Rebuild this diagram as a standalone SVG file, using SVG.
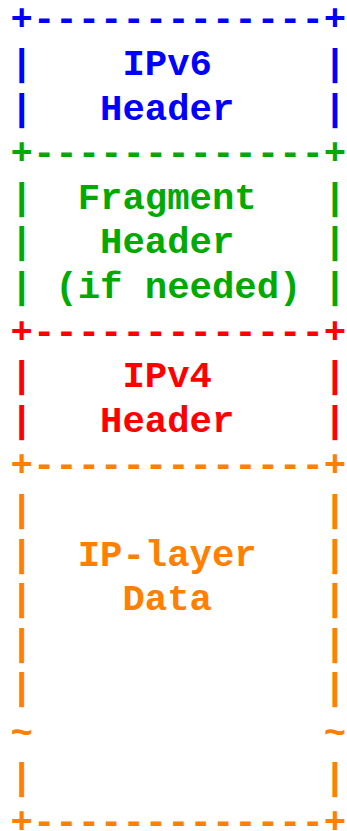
<svg xmlns="http://www.w3.org/2000/svg" width="347" height="831" viewBox="0 0 347 831">
  <style>
    text { font-family: "Liberation Mono", "Courier New", monospace; font-weight: bold; font-size: 37.3px; white-space: pre; }
    .v6 { fill: #0000ff; }
    .frag { fill: #00aa00; }
    .v4 { fill: #ff0000; }
    .data { fill: #ff8000; }
  </style>
  <rect width="347" height="831" fill="#ffffff"/>
  <!-- IPv6 header block -->
  <g id="ipv6-header" class="v6">
    <text x="10.5" y="30.4" xml:space="preserve">+-------------+</text>
    <text x="10.5" y="75.0" xml:space="preserve">|    IPv6     |</text>
    <text x="10.5" y="119.6" xml:space="preserve">|   Header    |</text>
  </g>
  <!-- Fragment header block -->
  <g id="fragment-header" class="frag">
    <text x="10.5" y="164.2" xml:space="preserve">+-------------+</text>
    <text x="10.5" y="208.8" xml:space="preserve">|  Fragment   |</text>
    <text x="10.5" y="253.4" xml:space="preserve">|   Header    |</text>
    <text x="10.5" y="298.0" xml:space="preserve">| (if needed) |</text>
  </g>
  <!-- IPv4 header block -->
  <g id="ipv4-header" class="v4">
    <text x="10.5" y="342.6" xml:space="preserve">+-------------+</text>
    <text x="10.5" y="387.2" xml:space="preserve">|    IPv4     |</text>
    <text x="10.5" y="431.8" xml:space="preserve">|   Header    |</text>
  </g>
  <!-- IP-layer payload block -->
  <g id="ip-layer-data" class="data">
    <text x="10.5" y="476.4" xml:space="preserve">+-------------+</text>
    <text x="10.5" y="521.0" xml:space="preserve">|             |</text>
    <text x="10.5" y="565.6" xml:space="preserve">|  IP-layer   |</text>
    <text x="10.5" y="610.2" xml:space="preserve">|    Data     |</text>
    <text x="10.5" y="654.8" xml:space="preserve">|             |</text>
    <text x="10.5" y="699.4" xml:space="preserve">|             |</text>
    <text x="10.5" y="744.0" xml:space="preserve">~             ~</text>
    <text x="10.5" y="788.6" xml:space="preserve">|             |</text>
    <text x="10.5" y="833.2" xml:space="preserve">+-------------+</text>
  </g>
</svg>
